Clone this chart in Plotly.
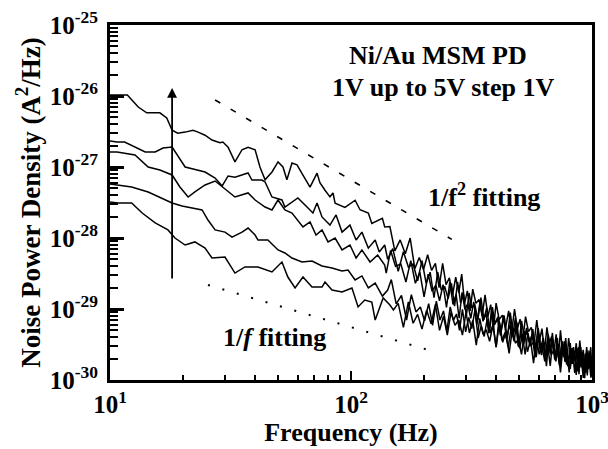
import numpy as np
import plotly.graph_objects as go

# ---------------- data ----------------
freq_5v = [10, 10.8, 11.8, 13.1, 14.2, 16.1, 17.2, 18.1, 19.1, 20.5, 22.1, 23.2, 24.8, 26.5, 28.6, 29.4,
           30.9, 33.0, 35.3, 37.4, 40.0, 41.9, 44.0, 47.0, 49.8, 52.2, 54.2, 56.9, 59.7, 63.2, 67.6, 72.3,
           74.3, 78.0, 81.8, 84.2, 85.9, 94.4, 104, 109, 118, 122, 135, 138,
           145, 152, 160, 168, 176, 184, 192, 200, 208, 216, 224, 232, 240, 248, 256, 264, 272, 280, 288,
           296, 304, 312, 320, 330, 340, 350, 360, 370, 380, 390, 400, 412, 425, 438, 451, 464, 477, 490,
           503, 516, 530, 545, 560, 575, 590, 605, 620, 635, 650, 665, 680, 695, 710, 725, 740, 755, 770,
           785, 800, 815, 830, 845, 860, 875, 890, 905, 920, 935, 950, 965, 980, 995]
psd_5v = [1.03e-26, 1.03e-26, 1.03e-26, 7.0e-27, 5.8e-27, 5.8e-27, 4.9e-27, 3.3e-27, 3.0e-27, 3.1e-27,
          3.3e-27, 3.1e-27, 2.8e-27, 2.4e-27, 2.2e-27, 2.25e-27, 1.9e-27, 1.18e-27, 1.75e-27, 1.9e-27,
          1.75e-27, 1.0e-27, 6.6e-28, 8.5e-28, 1.18e-27, 1.0e-27, 6.6e-28, 1.14e-27, 1.07e-27, 7.7e-28,
          5.2e-28, 8.2e-28, 6.0e-28, 4.7e-28, 3.8e-28, 4.3e-28, 3.1e-28, 2.7e-28, 3.4e-28, 2.5e-28,
          2.25e-28, 1.6e-28, 1.9e-28, 1.43e-28,
          1.45e-28, 6.6e-29, 9.4e-29, 6.0e-29, 1.0e-28, 3.7e-29, 5.3e-29, 3.6e-29, 5.8e-29, 3.5e-29,
          4.4e-29, 2.0e-29, 4.4e-29, 2.2e-29, 2.75e-29, 1.6e-29, 2.8e-29, 1.7e-29, 3.1e-29, 1.2e-29,
          1.8e-29, 9.4e-30, 1.9e-29, 1.2e-29, 1.36e-29, 8.0e-30, 1.58e-29, 7.9e-30, 1.15e-29, 5.2e-30,
          1.21e-29, 7.1e-30, 8.2e-30, 5.5e-30, 9.4e-30, 4.6e-30, 1.0e-29, 5.2e-30, 7.2e-30, 3.6e-30,
          7.8e-30, 4.8e-30, 5.5e-30, 3.3e-30, 7.0e-30, 3.5e-30, 5.3e-30, 2.5e-30, 5.5e-30, 3.25e-30,
          4.1e-30, 2.5e-30, 4.4e-30, 2.1e-30, 5.0e-30, 2.4e-30, 3.5e-30, 1.65e-30, 3.9e-30, 2.3e-30,
          2.8e-30, 1.86e-30, 3.3e-30, 1.65e-30, 3.6e-30, 1.96e-30, 2.66e-30, 1.38e-30, 2.9e-30, 1.88e-30,
          2.3e-30, 1.37e-30]

freq_4v = [10, 10.7, 11.5, 12.7, 14.0, 15.4, 16.6, 18.1, 19.0, 20.5, 23.0, 24.8, 27.3, 29.2, 30.9, 33.0,
           37.4, 38.8, 42.7, 44.0, 47.0, 51.7, 53.2, 58.6, 60.2, 65.7, 69.5, 72.3, 75.8, 81.8, 86.7, 91.8,
           99.0, 105, 111, 118, 126, 131, 138,
           142, 149, 157, 165, 173, 181, 189, 197, 205, 213, 221, 229, 237, 245, 253, 261, 269, 277, 285,
           293, 301, 309, 317, 326, 336, 346, 356, 366, 376, 386, 396, 407, 419, 432, 445, 458, 471, 484,
           497, 510, 524, 538, 553, 568, 583, 598, 613, 628, 643, 658, 673, 688, 703, 718, 733, 748, 763,
           778, 793, 808, 823, 838, 853, 868, 883, 898, 913, 928, 943, 958, 973, 988, 1000]
psd_4v = [2.32e-27, 2.25e-27, 2.25e-27, 1.91e-27, 1.63e-27, 1.63e-27, 1.85e-27, 1.91e-27, 1.48e-27,
          1.0e-27, 9.07e-28, 8.5e-28, 7.0e-28, 5.4e-28, 7.47e-28, 7.2e-28, 8.23e-28, 6.56e-28, 6.56e-28,
          6.15e-28, 3.78e-28, 3.43e-28, 2.73e-28, 3.43e-28, 3.66e-28, 2.73e-28, 2.25e-28, 3.11e-28,
          1.98e-28, 1.52e-28, 2.11e-28, 1.21e-28, 1.52e-28, 9.37e-29, 1.21e-28, 7.2e-29, 9.37e-29,
          6.35e-29, 7.97e-29,
          5.0e-29, 7.1e-29, 3.4e-29, 6.4e-29, 3.9e-29, 4.3e-29, 2.5e-29, 4.8e-29, 2.3e-29, 3.3e-29,
          1.44e-29, 3.3e-29, 1.85e-29, 2.05e-29, 1.39e-29, 2.3e-29, 1.1e-29, 2.4e-29, 1.22e-29, 1.62e-29,
          8.0e-30, 1.68e-29, 1.04e-29, 1.18e-29, 7.0e-30, 1.45e-29, 7.1e-30, 1.05e-29, 4.9e-30, 1.06e-29,
          6.2e-30, 7.8e-30, 4.7e-30, 8.1e-30, 3.8e-30, 8.9e-30, 4.3e-30, 6.1e-30, 2.9e-30, 6.8e-30,
          4.0e-30, 4.7e-30, 3.0e-30, 5.2e-30, 2.5e-30, 5.4e-30, 2.9e-30, 3.9e-30, 2.05e-30, 4.4e-30,
          2.8e-30, 3.4e-30, 2.0e-30, 3.9e-30, 1.87e-30, 2.95e-30, 2.1e-30, 3.9e-30, 1.56e-30, 2.3e-30,
          1.68e-30, 2.9e-30, 1.89e-30, 2.5e-30, 1.21e-30, 2.9e-30, 1.5e-30, 2.0e-30, 1.26e-30, 2.35e-30,
          1.53e-30, 2.9e-30, 1.28e-30]

freq_3v = [10, 10.7, 12.7, 14.4, 16.1, 18.1, 19.5, 21.1, 22.5, 24.8, 27.3, 29.2, 33.0, 37.4, 40.0, 44.0,
           47.0, 49.8, 53.2, 56.9, 60.2, 63.2, 67.6, 71.6, 75.8, 80.3, 85.9, 91.8, 99.0, 105, 111, 120,
           129, 138,
           140, 146, 153, 161, 169, 177, 185, 193, 201, 209, 217, 225, 233, 241, 249, 257, 265, 273, 281,
           289, 297, 305, 314, 323, 333, 343, 353, 363, 373, 383, 394, 405, 417, 429, 442, 455, 468, 481,
           494, 507, 521, 535, 550, 565, 580, 595, 610, 625, 640, 655, 670, 685, 700, 716, 732, 748, 764,
           780, 796, 812, 828, 844, 860, 876, 892, 908, 924, 940, 956, 972, 988, 1000]
psd_3v = [1.63e-27, 1.63e-27, 1.48e-27, 1.0e-27, 9.07e-28, 7.72e-28, 5.23e-28, 3.78e-28, 4.45e-28,
          5.58e-28, 6.35e-28, 5.23e-28, 3.78e-28, 4.31e-28, 3.43e-28, 2.73e-28, 2.48e-28, 3.43e-28,
          2.48e-28, 2.25e-28, 1.79e-28, 1.43e-28, 1.68e-28, 1.10e-28, 1.3e-28, 8.8e-29, 1.0e-28,
          6.78e-29, 7.97e-29, 5.23e-29, 6.78e-29, 4.59e-29, 5.76e-29, 4.17e-29,
          3.2e-29, 6.7e-29, 4.0e-29, 4.3e-29, 2.4e-29, 4.8e-29, 2.3e-29, 3.3e-29, 1.48e-29, 3.1e-29,
          1.78e-29, 2.16e-29, 1.3e-29, 2.2e-29, 1.05e-29, 2.4e-29, 1.16e-29, 1.61e-29, 7.4e-30, 1.72e-29,
          9.9e-30, 1.18e-29, 7.4e-30, 1.26e-29, 6.0e-30, 1.27e-29, 6.7e-30, 8.8e-30, 4.55e-30, 9.6e-30,
          6.0e-30, 7.3e-30, 4.25e-30, 8.1e-30, 3.8e-30, 5.9e-30, 4.1e-30, 7.5e-30, 3.0e-30, 4.5e-30,
          3.2e-30, 5.4e-30, 3.4e-30, 4.4e-30, 2.08e-30, 4.9e-30, 2.5e-30, 3.3e-30, 2.07e-30, 3.8e-30,
          2.4e-30, 4.6e-30, 1.95e-30, 3.0e-30, 1.62e-30, 3.3e-30, 2.2e-30, 2.55e-30, 1.58e-30, 3.3e-30,
          1.68e-30, 2.56e-30, 1.18e-30, 2.85e-30, 1.7e-30, 1.98e-30, 1.37e-30, 2.35e-30, 1.16e-30, 2.6e-30,
          1.38e-30, 1.92e-30]

freq_2v = [10, 10.8, 12.3, 14.4, 16.1, 18.1, 19.9, 21.9, 24.1, 25.5, 27.3, 30.0, 32.1, 35.3, 37.4, 40.0,
           41.1, 45.2, 49.8, 53.2, 56.9, 62.6, 68.9, 75.8, 83.4, 91.8, 97.2, 104, 111, 118, 126, 135, 142,
           147, 154, 162, 170, 178, 186, 194, 202, 210, 218, 226, 234, 242, 250, 258, 266, 274, 282, 290,
           299, 308, 317, 327, 337, 347, 357, 367, 378, 389, 400, 411, 423, 436, 449, 462, 475, 488, 501,
           514, 528, 542, 557, 572, 587, 602, 617, 632, 647, 662, 677, 692, 708, 724, 740, 756, 772, 788,
           804, 820, 836, 852, 868, 884, 900, 916, 932, 948, 964, 980, 995]
psd_2v = [5.76e-28, 5.58e-28, 5.23e-28, 4.45e-28, 3.78e-28, 3.11e-28, 2.82e-28, 2.65e-28, 2.48e-28,
          1.79e-28, 1.30e-28, 1.21e-28, 1.03e-28, 1.21e-28, 1.38e-28, 1.10e-28, 9.37e-29, 9.37e-29,
          6.78e-29, 6.15e-29, 5.23e-29, 4.59e-29, 4.74e-29, 4.04e-29, 3.78e-29, 3.43e-29, 3.54e-29,
          2.56e-29, 2.92e-29, 1.98e-29, 2.32e-29, 1.52e-29, 1.85e-29,
          2.6e-29, 1.18e-29, 1.55e-29, 7.0e-30, 1.59e-29, 9.1e-30, 1.07e-29, 6.8e-30, 1.19e-29, 5.9e-30,
          1.29e-29, 7.0e-30, 9.4e-30, 4.9e-30, 1.07e-29, 6.9e-30, 8.5e-30, 5.0e-30, 9.9e-30, 4.75e-30,
          7.6e-30, 5.3e-30, 9.7e-30, 3.9e-30, 5.8e-30, 4.1e-30, 7.1e-30, 4.6e-30, 6.1e-30, 2.9e-30,
          7.0e-30, 3.6e-30, 4.7e-30, 2.9e-30, 5.4e-30, 3.5e-30, 6.5e-30, 2.8e-30, 4.3e-30, 2.3e-30,
          4.6e-30, 3.0e-30, 3.45e-30, 2.1e-30, 4.3e-30, 2.24e-30, 3.4e-30, 1.56e-30, 3.8e-30, 2.25e-30,
          2.6e-30, 1.83e-30, 3.2e-30, 1.55e-30, 3.5e-30, 1.82e-30, 2.5e-30, 1.28e-30, 2.8e-30, 1.8e-30,
          2.1e-30, 1.32e-30, 2.9e-30, 1.5e-30, 2.26e-30, 1.06e-30, 2.4e-30, 1.42e-30, 1.83e-30, 1.12e-30]

freq_1v = [10, 10.8, 12.3, 13.6, 15.4, 17.4, 18.6, 20.5, 22.5, 24.8, 26.5, 30.0, 33.0, 36.3, 41.1, 47.0,
           51.7, 54.7, 58.6, 63.2, 68.9, 75.8, 78.0, 83.4, 91.8, 100.9, 107, 114, 122, 126, 136, 145,
           150, 157, 165, 173, 181, 189, 197, 206, 215, 224, 233, 242, 251, 260, 270, 280, 290, 300, 310,
           320, 331, 342, 353, 364, 376, 388, 400, 413, 426, 439, 453, 467, 481, 495, 510, 525, 540, 556,
           572, 588, 604, 620, 637, 654, 671, 688, 705, 722, 740, 758, 776, 794, 812, 830, 848, 866, 884,
           902, 920, 938, 956, 974, 990, 1000]
psd_1v = [3.21e-28, 3.11e-28, 3.11e-28, 2.25e-28, 1.63e-28, 1.30e-28, 1.0e-28, 7.97e-29, 8.8e-29,
          7.2e-29, 5.23e-29, 5.4e-29, 3.21e-29, 3.91e-29, 3.91e-29, 3.32e-29, 4.59e-29, 2.82e-29,
          1.98e-29, 2.82e-29, 2.04e-29, 2.04e-29, 2.40e-29, 1.85e-29, 1.74e-29, 1.98e-29, 1.07e-29,
          1.34e-29, 1.25e-29, 7.0e-30, 1.43e-29, 1.14e-29,
          9.7e-30, 1.2e-29, 5.5e-30, 1.26e-29, 6.3e-30, 8.4e-30, 5.2e-30, 9.6e-30, 6.2e-30, 1.16e-29,
          5.0e-30, 7.9e-30, 4.3e-30, 9.0e-30, 5.9e-30, 7.0e-30, 4.3e-30, 9.0e-30, 4.6e-30, 6.9e-30,
          3.1e-30, 7.4e-30, 4.4e-30, 5.1e-30, 3.5e-30, 5.9e-30, 2.9e-30, 6.6e-30, 3.4e-30, 4.7e-30,
          2.37e-30, 5.1e-30, 3.3e-30, 3.75e-30, 2.3e-30, 4.9e-30, 2.5e-30, 3.7e-30, 1.73e-30, 3.8e-30,
          2.3e-30, 2.95e-30, 1.83e-30, 3.25e-30, 1.58e-30, 3.8e-30, 1.88e-30, 2.7e-30, 1.28e-30, 3.0e-30,
          1.79e-30, 2.17e-30, 1.43e-30, 2.5e-30, 1.26e-30, 2.8e-30, 1.51e-30, 2.06e-30, 1.07e-30, 2.3e-30,
          1.47e-30, 1.81e-30, 1.08e-30, 2.15e-30]

# fitting guide lines (end points)
fit_f2_freq = [27.3, 262]
fit_f2_psd = [8.8e-27, 9.55e-29]
fit_f1_freq = [25.5, 215]
fit_f1_psd = [2.18e-29, 2.58e-30]

# arrow (increasing bias)
arrow_freq = 18.1
arrow_psd_tail = 2.57e-29
arrow_psd_head = 1.3e-26

x_tickvals = [10, 100, 1000]
x_ticktext = ["10<sup>1</sup>", "10<sup>2</sup>", "10<sup>3</sup>"]
y_tickvals = [1e-30, 1e-29, 1e-28, 1e-27, 1e-26, 1e-25]
y_ticktext = ["10<sup>-30</sup>", "10<sup>-29</sup>", "10<sup>-28</sup>",
              "10<sup>-27</sup>", "10<sup>-26</sup>", "10<sup>-25</sup>"]
x_minor = [20, 30, 40, 50, 60, 70, 80, 90, 200, 300, 400, 500, 600, 700, 800, 900]
y_minor = [m * 10.0 ** e for e in range(-30, -25) for m in range(2, 10)]

FONT = "Liberation Serif, Times New Roman, DejaVu Serif, serif"

fig = go.Figure()
for fr, ps in [(freq_1v, psd_1v), (freq_2v, psd_2v), (freq_3v, psd_3v), (freq_4v, psd_4v), (freq_5v, psd_5v)]:
    fig.add_trace(go.Scatter(x=fr, y=ps, mode="lines", line=dict(color="black", width=1.5),
                             showlegend=False, hoverinfo="skip"))

fig.add_trace(go.Scatter(x=fit_f2_freq, y=fit_f2_psd, mode="lines",
                         line=dict(color="black", width=1.6, dash="6px,12px"), showlegend=False))
fig.add_trace(go.Scatter(x=fit_f1_freq, y=fit_f1_psd, mode="lines",
                         line=dict(color="black", width=2, dash="2px,13px"), showlegend=False))

fig.add_annotation(x=np.log10(arrow_freq), y=np.log10(arrow_psd_head),
                   ax=np.log10(arrow_freq), ay=np.log10(arrow_psd_tail),
                   xref="x", yref="y", axref="x", ayref="y", text="", showarrow=True,
                   arrowhead=2, arrowsize=1.1, arrowwidth=1.8, arrowcolor="black", standoff=0)

txt = dict(family=FONT, size=26, color="black", weight="bold")
for xp, yp, t in [(0.68, 0.915, "Ni/Au MSM PD"),
                  (0.691, 0.823, "1V up to 5V step 1V"),
                  (0.776, 0.521, "1/f<sup>2</sup> fitting"),
                  (0.342, 0.121, "1/<i>f</i> fitting")]:
    fig.add_annotation(x=xp, y=yp, xref="paper", yref="paper", text=t, xanchor="center",
                       yanchor="middle", showarrow=False, font=txt)

axis_font = dict(family=FONT, size=25, color="black", weight="bold")
fig.update_xaxes(type="log", range=[1, 3], showline=True, linewidth=3, linecolor="black", mirror=True,
                 ticks="inside", ticklen=9, tickwidth=2, tickcolor="black",
                 tickvals=x_tickvals, ticktext=x_ticktext, tickfont=axis_font, ticklabeloverflow="allow",
                 showgrid=False, zeroline=False, automargin=False,
                 minor=dict(ticks="inside", tickvals=x_minor, ticklen=5, tickwidth=2,
                            tickcolor="black", showgrid=False),
                 title=dict(text="Frequency (Hz)", font=dict(family=FONT, size=26, color="black", weight="bold"),
                            standoff=4))
fig.update_yaxes(type="log", range=[-30, -25], showline=True, linewidth=3, linecolor="black", mirror=True,
                 ticks="inside", ticklen=14, tickwidth=3, tickcolor="black",
                 tickvals=y_tickvals, ticktext=y_ticktext, tickfont=axis_font, ticklabeloverflow="allow",
                 showgrid=False, zeroline=False, automargin=False, ticklabelstandoff=4,
                 minor=dict(ticks="inside", tickvals=y_minor, ticklen=8, tickwidth=2,
                            tickcolor="black", showgrid=False),
                 title=dict(text="Noise Power Density (A<sup>2</sup>/Hz)",
                            font=dict(family=FONT, size=27, color="black", weight="bold"), standoff=2))

fig.update_layout(width=608, height=449, margin=dict(l=110, r=16, t=25, b=69),
                  paper_bgcolor="white", plot_bgcolor="white", showlegend=False)

fig.write_html("out.html")
